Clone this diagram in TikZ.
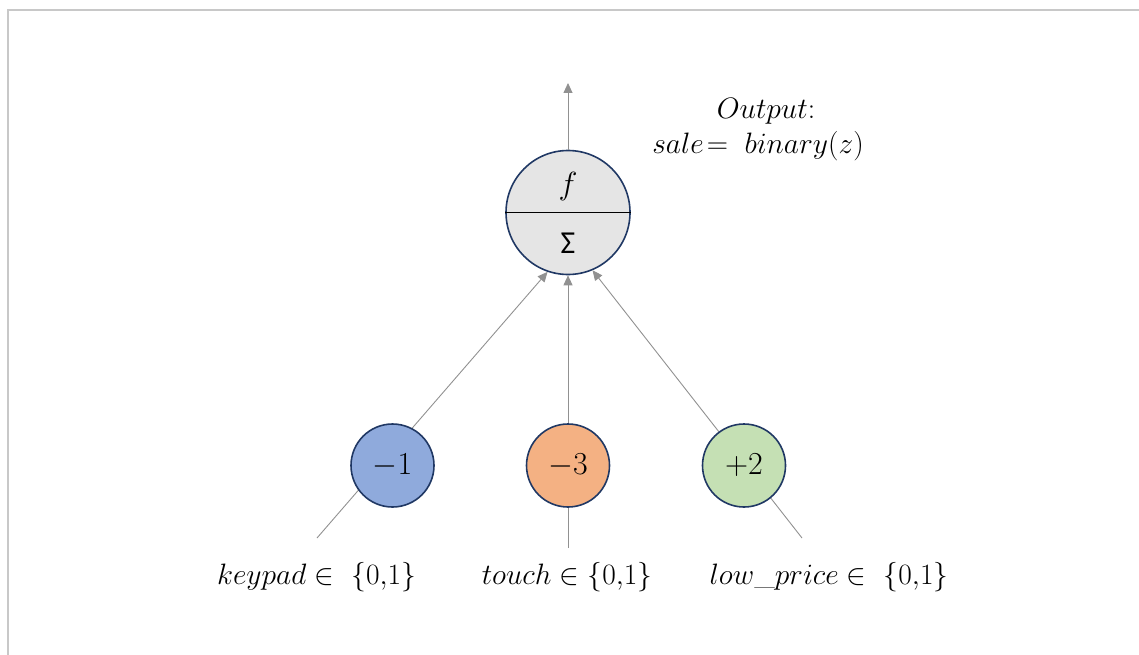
\RequirePackage{fix-cm}
\documentclass[tikz,border=0pt]{standalone}
\usepackage{fontspec}
\usetikzlibrary{arrows.meta}
\newfontfamily\carlito{Carlito}
\definecolor{frameC}{RGB}{200,200,200}
\definecolor{edgeC}{RGB}{32,56,100}
\definecolor{lineC}{RGB}{145,145,145}
\definecolor{blueF}{RGB}{143,170,220}
\definecolor{orangeF}{RGB}{244,177,131}
\definecolor{greenF}{RGB}{197,224,180}
\definecolor{grayF}{RGB}{229,229,229}
\tikzset{
  bigtxt/.style={font=\fontsize{29.5}{35}\selectfont, inner sep=0pt},
  neuron/.style={circle, draw=edgeC, line width=1.6pt, fill=grayF, minimum size=124pt, inner sep=0pt},
  weight/.style={circle, draw=edgeC, line width=1.6pt, minimum size=83pt, inner sep=0pt, font=\fontsize{32}{38}\selectfont},
  conn/.style={draw=lineC, line width=0.9pt},
  arrowconn/.style={conn, -{Triangle[length=10pt,width=9pt]}, lineC},
}
\begin{document}
\begin{tikzpicture}[x=1pt,y=-1pt]
\useasboundingbox (0,0) rectangle (1139,655);
\draw[frameC, line width=1.5pt] (8,655) -- (8,10) -- (1139,10);

% main neuron
\node[neuron] (main) at (568,212.5) {};
\draw[black, line width=0.8pt] (main.west) -- (main.east);
\node[font=\fontsize{32}{38}\selectfont, inner sep=0pt] (fnode) at (568,186) {$f$};
\node[font=\carlito\fontsize{32}{36}\selectfont, inner sep=0pt] (sig) at (568,243) {Σ};

% output
\coordinate (outtip) at (568,83);
\draw[arrowconn] (main.north) -- (outtip);
\node[bigtxt] (out1) at (766,111) {$Output$:};
\node[bigtxt] (out2) at (758,146) {$sale\!=\;binary(z)$};

% inputs
\coordinate (in1) at (317,538);
\coordinate (in2) at (568,548);
\coordinate (in3) at (802,538);
\draw[arrowconn] (in1) -- (main.-109.5);
\draw[arrowconn] (in2) -- (main.south);
\draw[arrowconn] (in3) -- (main.-67.7);

% weights
\node[weight, fill=blueF] (w1) at (392.5,465.5) {$-1$};
\node[weight, fill=orangeF] (w2) at (568,465.5) {$-3$};
\node[weight, fill=greenF] (w3) at (744,465.5) {$+2$};

% labels
\node[bigtxt] (l1) at (316.5,577) {$keypad\in\ \{0{,}1\}$};
\node[bigtxt] (l2) at (567,577) {$touch\in\{0{,}1\}$};
\node[bigtxt] (l3) at (829,577) {$low\_price\in\ \{0{,}1\}$};
\end{tikzpicture}
\end{document}
